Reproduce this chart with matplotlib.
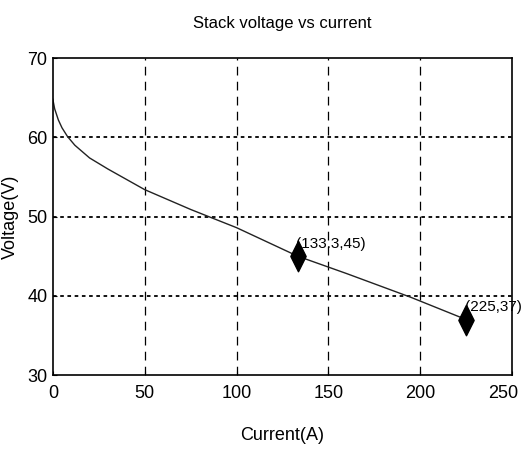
import matplotlib
matplotlib.use('Agg')
import matplotlib.pyplot as plt
import matplotlib.transforms as mtransforms
from matplotlib.path import Path

plt.rcParams['font.family'] = ['Liberation Sans', 'DejaVu Sans']

# stack polarization curve
current = [0, 1, 3, 5, 8, 12, 20, 30, 50, 75, 100, 133.3, 160, 195, 225]
voltage = [64.8, 63.6, 62.2, 61.2, 60.1, 59.0, 57.4, 56.0, 53.4, 50.9, 48.6, 45.0, 42.8, 39.8, 37.0]

# marked operating points
mark_i = [133.3, 225]
mark_v = [45, 37]
mark_labels = ['(133.3,45)', '(225,37)']

x_ticks = [0, 50, 100, 150, 200, 250]
y_ticks = [30, 40, 50, 60, 70]

# tall narrow diamond like the one in the original figure
diamond = Path([(0, 1), (0.5, 0), (0, -1), (-0.5, 0), (0, 1)],
               [Path.MOVETO, Path.LINETO, Path.LINETO, Path.LINETO, Path.CLOSEPOLY])

fig = plt.figure(figsize=(5.23, 4.54), dpi=100)
ax = fig.add_axes([0.101, 0.174, 0.878, 0.698])

for x in x_ticks[1:-1]:
    ax.axvline(x, color='black', lw=0.9, dashes=(7, 5))
for y in y_ticks[1:-1]:
    ax.axhline(y, color='black', lw=1.3, dashes=(2, 2))

ax.plot(current, voltage, color='#222222', lw=1.0)
ax.plot(mark_i, mark_v, marker=diamond, ls='none', color='black', markersize=22)

for i, v, s in zip(mark_i, mark_v, mark_labels):
    ax.annotate(s, (i, v), xytext=(-1, 4), textcoords='offset points',
                ha='left', va='bottom', fontsize=11)

ax.set_xlim(0, 250)
ax.set_ylim(30, 70)
ax.set_xticks(x_ticks)
ax.set_yticks(y_ticks)
ax.tick_params(direction='in', length=3, labelsize=13)
ax.tick_params(axis='x', pad=7)
ax.tick_params(axis='y', pad=4)
for sp in ax.spines.values():
    sp.set_linewidth(1.2)

# keep the last x label inside the figure edge
last = ax.get_xticklabels()[-1]
last.set_transform(last.get_transform() +
                   mtransforms.ScaledTranslation(-9 / 100, 0, fig.dpi_scale_trans))

ax.set_title('Stack voltage vs current', fontsize=12, pad=22)
ax.set_xlabel('Current(A)', fontsize=13, labelpad=18)
ax.set_ylabel('Voltage(V)', fontsize=13, labelpad=6)

fig.savefig('out.png', dpi=100)
